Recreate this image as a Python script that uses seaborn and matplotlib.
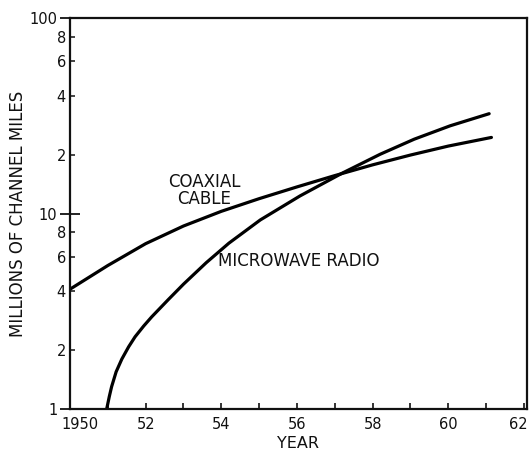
import numpy as np
import pandas as pd
import matplotlib
matplotlib.use("Agg")
import matplotlib.pyplot as plt
import matplotlib.transforms as mtransforms
import seaborn as sns
from matplotlib.ticker import FixedLocator, FixedFormatter, NullFormatter

# values (millions of channel miles)
coax_years = [1950, 1951, 1952, 1953, 1954, 1955, 1956, 1957, 1958, 1959, 1960, 1961.14]
coax_values = [4.10, 5.42, 7.01, 8.63, 10.26, 11.91, 13.68, 15.63, 17.74, 19.91, 22.13, 24.5]

micro_years = [1950.97, 1951.04, 1951.1, 1951.22, 1951.37, 1951.55, 1951.72, 1951.95,
               1952.16, 1952.6, 1953.0, 1953.6, 1954.2, 1955.03, 1956.08, 1957.2,
               1958.2, 1959.1, 1960.05, 1961.08]
micro_values = [1.0, 1.16, 1.30, 1.55, 1.80, 2.08, 2.34, 2.66,
                2.96, 3.63, 4.35, 5.60, 7.05, 9.27, 12.3, 16.1,
                20.1, 24.0, 28.1, 32.4]

x_ticks = list(range(1950, 1963))
x_labels = ["1950", "", "52", "", "54", "", "56", "", "58", "", "60", "", "62"]
y_major = [1, 10, 100]
y_major_labels = ["1", "10", "100"]
y_minor = [2, 4, 6, 8, 20, 40, 60, 80]
y_minor_labels = ["2", "4", "6", "8", "2", "4", "6", "8"]

sns.set_style("ticks")
plt.rcParams["font.family"] = ["DejaVu Sans"]
ink = "#111111"

fig = plt.figure(figsize=(5.29, 4.55), dpi=100)
ax = fig.add_axes([0.1323, 0.1011, 0.8639, 0.8593])

coax = pd.DataFrame({"year": coax_years, "value": coax_values})
micro = pd.DataFrame({"year": micro_years, "value": micro_values})
sns.lineplot(data=coax, x="year", y="value", color="black", lw=2.3, ax=ax,
             solid_joinstyle="round", solid_capstyle="round")
sns.lineplot(data=micro, x="year", y="value", color="black", lw=2.3, ax=ax,
             solid_joinstyle="round", solid_capstyle="round")

ax.set_yscale("log")
ax.set_xlim(1950, 1962.08)
ax.set_ylim(1, 100)

ax.xaxis.set_major_locator(FixedLocator(x_ticks))
ax.xaxis.set_major_formatter(FixedFormatter(x_labels))
ax.xaxis.set_minor_formatter(NullFormatter())
ax.tick_params(axis="x", which="major", direction="in", length=4.5, width=1.2,
               labelsize=10.5, pad=6, colors=ink)

ax.yaxis.set_major_locator(FixedLocator(y_major))
ax.yaxis.set_major_formatter(FixedFormatter(y_major_labels))
ax.yaxis.set_minor_locator(FixedLocator(y_minor))
ax.yaxis.set_minor_formatter(FixedFormatter(y_minor_labels))
ax.tick_params(axis="y", which="major", direction="inout", length=14, width=1.3,
               labelsize=10.5, pad=2, colors=ink)
ax.tick_params(axis="y", which="minor", direction="in", length=3.6, width=1.1,
               labelsize=10.5, pad=3, colors=ink)

for side in ["left", "right", "top", "bottom"]:
    ax.spines[side].set_visible(True)
    ax.spines[side].set_linewidth(1.6)
    ax.spines[side].set_color(ink)

# nudge first and last year labels like the original
fig.canvas.draw()
xt = ax.get_xticklabels()
xt[0].set_transform(xt[0].get_transform() + mtransforms.ScaledTranslation(0.10, 0, fig.dpi_scale_trans))
xt[-1].set_transform(xt[-1].get_transform() + mtransforms.ScaledTranslation(-0.06, 0, fig.dpi_scale_trans))

ax.set_xlabel("YEAR", fontsize=11.5, labelpad=3, color=ink)
ax.set_ylabel("MILLIONS OF CHANNEL MILES", fontsize=12, labelpad=2, color=ink)

ax.text(1953.55, 13.1, "COAXIAL\nCABLE", ha="center", va="center",
        fontsize=12, linespacing=0.95, color=ink)
ax.text(1956.06, 5.69, "MICROWAVE RADIO", ha="center", va="center",
        fontsize=12, color=ink)

fig.savefig("out.png", dpi=100)
